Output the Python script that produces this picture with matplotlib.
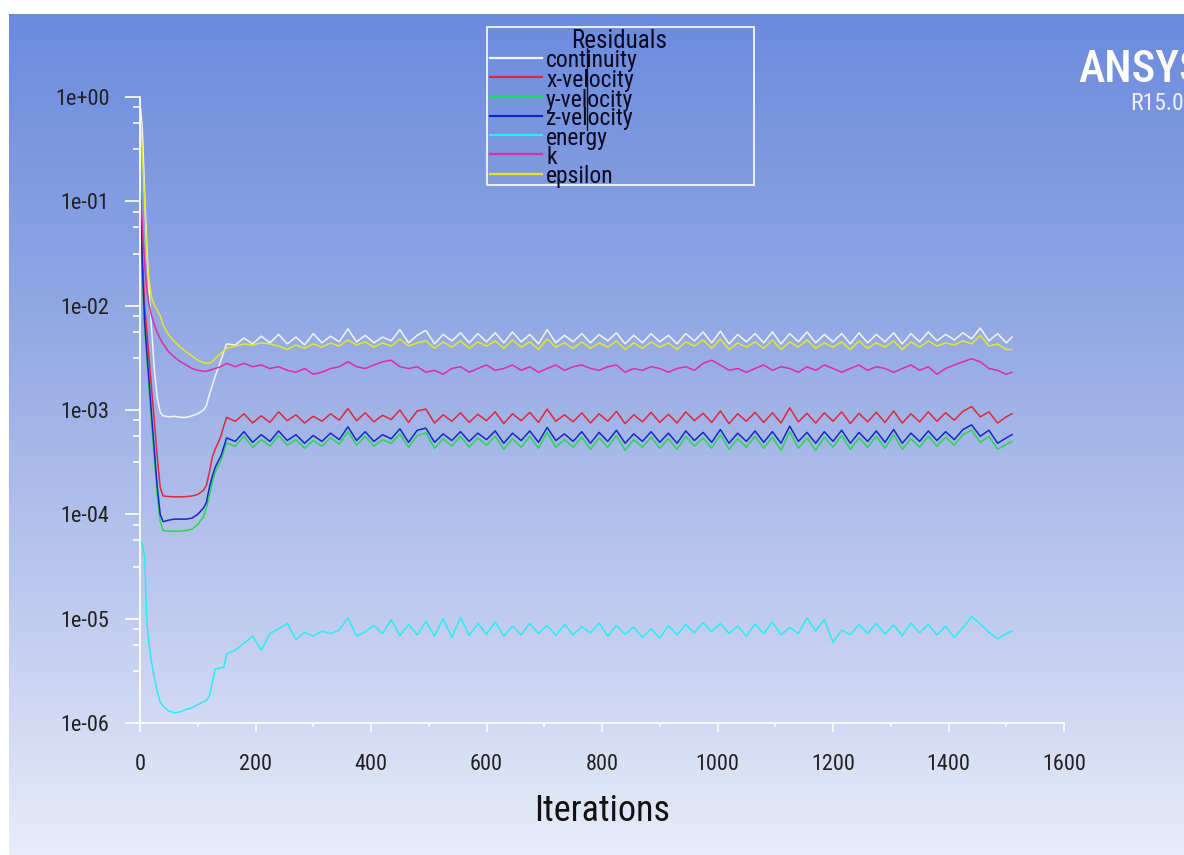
import numpy as np
import matplotlib
matplotlib.use("Agg")
import matplotlib.pyplot as plt
from matplotlib.colors import LinearSegmentedColormap
from matplotlib.lines import Line2D
from matplotlib.patches import Rectangle
from matplotlib.ticker import FixedLocator, NullFormatter

plt.rcParams['font.family'] = ['Roboto Condensed', 'Liberation Sans Narrow', 'Liberation Sans', 'DejaVu Sans']

iterations = [1, 4, 8, 12, 16, 20, 25, 30, 35, 40,
              50, 60, 70, 80, 90, 100, 110, 115, 120, 125,
              130, 135, 140, 145, 150,
              165, 180, 195, 210, 225, 240, 255, 270, 285, 300,
              315, 330, 345, 360, 375, 390, 405, 420, 435, 450,
              465, 480, 495, 510, 525, 540, 555, 570, 585, 600,
              615, 630, 645, 660, 675, 690, 705, 720, 735, 750,
              765, 780, 795, 810, 825, 840, 855, 870, 885, 900,
              915, 930, 945, 960, 975, 990, 1005, 1020, 1035, 1050,
              1065, 1080, 1095, 1110, 1125, 1140, 1155, 1170, 1185, 1200,
              1215, 1230, 1245, 1260, 1275, 1290, 1305, 1320, 1335, 1350,
              1365, 1380, 1395, 1410, 1425, 1440, 1455, 1470, 1485, 1500,
              1510]

continuity = np.array([
    780, 500, 120, 35, 13, 6, 2.4, 1.3, 0.95, 0.88,
    0.86, 0.87, 0.85, 0.85, 0.88, 0.92, 1.0, 1.1, 1.4, 1.7,
    2.1, 2.5, 3.0, 3.6, 4.3,
    4.2, 4.9, 4.3, 5.1, 4.4, 5.3, 4.3, 5.0, 4.2, 5.4,
    4.4, 5.1, 4.5, 6.0, 4.5, 5.2, 4.4, 5.0, 4.6, 5.9,
    4.4, 5.2, 5.8, 4.3, 5.3, 4.6, 5.5, 4.4, 5.4, 4.5,
    5.5, 4.4, 5.6, 4.5, 5.3, 4.3, 5.9, 4.4, 5.2, 4.5,
    5.4, 4.4, 5.3, 4.6, 5.5, 4.3, 5.2, 4.4, 5.4, 4.5,
    5.2, 4.3, 5.4, 4.6, 5.6, 4.4, 5.7, 4.3, 5.3, 4.5,
    5.4, 4.4, 5.6, 4.3, 5.4, 4.5, 5.6, 4.4, 5.3, 4.5,
    5.4, 4.3, 5.5, 4.4, 5.3, 4.5, 5.5, 4.3, 5.4, 4.5,
    5.6, 4.6, 5.3, 4.7, 5.5, 4.8, 6.1, 4.6, 5.4, 4.4,
    5.0]) * 1e-3

x_velocity = np.array([
    1000, 300, 100, 55, 30, 16, 7.5, 3.5, 1.8, 1.5,
    1.48, 1.47, 1.47, 1.48, 1.5, 1.55, 1.7, 1.9, 2.5, 3.5,
    4.2, 4.8, 5.6, 7.0, 8.5,
    7.8, 9.2, 7.5, 8.8, 7.6, 9.6, 7.9, 9.0, 7.5, 8.7,
    7.8, 9.2, 8.0, 10.3, 7.9, 9.4, 7.7, 8.9, 8.1, 10.0,
    7.6, 9.8, 10.2, 7.5, 9.0, 7.8, 9.4, 7.6, 9.1, 7.9,
    9.6, 7.4, 9.2, 7.9, 9.5, 7.6, 10.2, 7.8, 9.0, 7.7,
    9.4, 7.5, 9.2, 7.8, 9.7, 7.4, 9.0, 7.7, 9.5, 7.6,
    9.1, 7.5, 9.6, 7.9, 9.3, 7.6, 9.8, 7.4, 9.2, 7.8,
    9.5, 7.6, 9.4, 7.5, 10.5, 7.7, 9.3, 7.5, 9.4, 7.8,
    9.6, 7.4, 9.3, 7.7, 9.5, 7.6, 9.8, 7.5, 9.2, 7.7,
    9.6, 7.8, 9.4, 8.0, 9.7, 10.8, 8.6, 9.6, 7.5, 8.6,
    9.2]) * 1e-4

y_velocity = np.array([
    500, 200, 60, 30, 15, 7.5, 3.3, 1.5, 0.85, 0.7,
    0.69, 0.69, 0.69, 0.7, 0.72, 0.8, 0.95, 1.15, 1.5, 2.0,
    2.5, 2.9, 3.3, 4.0, 4.8,
    4.5, 5.6, 4.4, 5.2, 4.5, 5.7, 4.6, 5.2, 4.3, 5.1,
    4.5, 5.4, 4.7, 6.2, 4.6, 5.6, 4.5, 5.2, 4.8, 5.9,
    4.4, 5.7, 6.0, 4.3, 5.3, 4.5, 5.6, 4.4, 5.4, 4.6,
    5.6, 4.2, 5.3, 4.4, 5.6, 4.3, 6.1, 4.4, 5.2, 4.4,
    5.5, 4.2, 5.4, 4.4, 5.7, 4.1, 5.2, 4.4, 5.5, 4.3,
    5.3, 4.2, 5.6, 4.5, 5.4, 4.3, 5.8, 4.2, 5.3, 4.4,
    5.6, 4.3, 5.5, 4.1, 6.2, 4.3, 5.4, 4.1, 5.5, 4.4,
    5.7, 4.2, 5.4, 4.4, 5.6, 4.3, 5.8, 4.2, 5.3, 4.4,
    5.6, 4.5, 5.5, 4.6, 5.8, 6.4, 4.9, 5.6, 4.2, 4.7,
    5.0]) * 1e-4

z_velocity = np.array([
    800, 250, 70, 35, 18, 9, 4, 1.8, 1.0, 0.85,
    0.88, 0.9, 0.9, 0.9, 0.92, 1.0, 1.15, 1.3, 1.8, 2.3,
    2.8, 3.2, 3.6, 4.4, 5.4,
    5.0, 6.2, 4.9, 5.8, 5.0, 6.3, 5.1, 5.8, 4.8, 5.7,
    5.0, 6.0, 5.2, 6.9, 5.1, 6.2, 5.0, 5.8, 5.3, 6.6,
    4.9, 6.4, 6.7, 4.9, 5.9, 5.1, 6.2, 5.0, 6.0, 5.2,
    6.3, 4.8, 6.0, 5.1, 6.3, 4.9, 6.8, 5.1, 5.9, 5.0,
    6.2, 4.8, 6.1, 5.0, 6.4, 4.8, 5.9, 5.0, 6.2, 4.9,
    6.0, 4.8, 6.3, 5.1, 6.1, 4.9, 6.5, 4.8, 6.0, 5.0,
    6.3, 4.9, 6.2, 4.8, 7.0, 5.0, 6.1, 4.8, 6.2, 5.0,
    6.4, 4.8, 6.1, 5.0, 6.3, 4.9, 6.5, 4.8, 6.0, 5.0,
    6.3, 5.1, 6.2, 5.2, 6.5, 7.2, 5.6, 6.4, 4.8, 5.4,
    5.8]) * 1e-4

energy = np.array([
    55, 52, 40, 9, 5.5, 3.8, 2.7, 2.0, 1.6, 1.45,
    1.3, 1.25, 1.28, 1.35, 1.4, 1.5, 1.6, 1.65, 1.8, 2.4,
    3.3, 3.3, 3.4, 3.4, 4.6,
    5.0, 5.8, 6.8, 5.0, 7.2, 8.0, 9.0, 6.3, 7.4, 6.8,
    7.6, 7.2, 7.8, 10.2, 6.8, 7.5, 8.6, 7.2, 9.8, 6.9,
    8.8, 7.0, 9.4, 6.8, 10.0, 6.6, 10.3, 6.9, 9.0, 7.1,
    9.3, 6.8, 8.5, 7.0, 9.0, 7.2, 8.6, 6.9, 8.8, 7.0,
    8.4, 7.3, 9.1, 6.8, 8.6, 7.1, 8.3, 6.6, 8.0, 6.5,
    8.6, 7.0, 8.8, 7.3, 9.2, 7.5, 9.0, 7.2, 8.5, 6.8,
    8.9, 7.2, 9.3, 7.0, 8.2, 7.2, 10.2, 7.6, 9.8, 5.9,
    7.8, 7.0, 8.8, 7.2, 9.0, 7.1, 8.7, 6.9, 9.1, 7.3,
    8.8, 7.0, 8.5, 6.6, 8.2, 10.5, 8.9, 7.4, 6.4, 7.2,
    7.6]) * 1e-6

k = np.array([
    120, 60, 25, 14, 10, 8, 6.5, 5.5, 4.8, 4.3,
    3.6, 3.2, 2.9, 2.7, 2.5, 2.4, 2.35, 2.35, 2.4, 2.45,
    2.5, 2.55, 2.6, 2.7, 2.8,
    2.6, 2.8, 2.6, 2.7, 2.5, 2.6, 2.4, 2.3, 2.5, 2.2,
    2.3, 2.5, 2.6, 2.9, 2.6, 2.5, 2.7, 2.9, 3.0, 2.6,
    2.5, 2.6, 2.3, 2.4, 2.2, 2.5, 2.6, 2.3, 2.5, 2.7,
    2.4, 2.5, 2.7, 2.4, 2.6, 2.3, 2.5, 2.7, 2.4, 2.6,
    2.7, 2.5, 2.4, 2.6, 2.7, 2.3, 2.5, 2.4, 2.6, 2.5,
    2.3, 2.5, 2.6, 2.4, 2.8, 3.0, 2.7, 2.4, 2.5, 2.3,
    2.5, 2.7, 2.4, 2.6, 2.5, 2.3, 2.6, 2.4, 2.7, 2.5,
    2.3, 2.5, 2.7, 2.4, 2.6, 2.5, 2.3, 2.5, 2.7, 2.4,
    2.6, 2.2, 2.5, 2.7, 2.9, 3.1, 2.9, 2.5, 2.4, 2.2,
    2.3]) * 1e-3

epsilon = np.array([
    550, 300, 100, 30, 17, 12, 10, 9, 8, 6.5,
    5.2, 4.5, 4.0, 3.6, 3.3, 3.0, 2.85, 2.8, 2.8, 2.9,
    3.1, 3.3, 3.5, 3.7, 3.9,
    4.1, 4.3, 4.2, 4.4, 4.3, 4.1, 3.8, 4.2, 3.9, 4.3,
    4.0, 4.4, 4.1, 4.7, 4.2, 4.5, 4.0, 4.4, 4.1, 4.8,
    4.1, 4.4, 4.6, 3.9, 4.5, 4.0, 4.6, 3.9, 4.5, 4.1,
    4.6, 3.9, 4.7, 4.0, 4.5, 3.8, 4.8, 4.0, 4.4, 3.9,
    4.5, 3.9, 4.4, 4.0, 4.6, 3.8, 4.4, 3.9, 4.5, 4.0,
    4.4, 3.8, 4.5, 4.1, 4.7, 3.9, 4.8, 3.8, 4.4, 4.0,
    4.5, 3.9, 4.7, 3.8, 4.5, 4.0, 4.7, 3.9, 4.4, 4.0,
    4.5, 3.8, 4.6, 3.9, 4.4, 4.0, 4.6, 3.8, 4.5, 4.0,
    4.6, 4.1, 4.4, 4.2, 4.6, 4.3, 5.2, 4.1, 4.3, 3.8,
    3.8]) * 1e-3

names = ['continuity', 'x-velocity', 'y-velocity', 'z-velocity', 'energy', 'k', 'epsilon']
series = [continuity, x_velocity, y_velocity, z_velocity, energy, k, epsilon]
colors = ['#f2f4fa', '#e0283c', '#28d850', '#1428c8', '#28eef0', '#e02ca8', '#e6e628']

x_major = [0, 200, 400, 600, 800, 1000, 1200, 1400, 1600]
x_minor = [100, 300, 500, 700, 900, 1100, 1300, 1500]
y_major = [1e-6, 1e-5, 1e-4, 1e-3, 1e-2, 1e-1, 1e0]
y_labels = ['1e-06', '1e-05', '1e-04', '1e-03', '1e-02', '1e-01', '1e+00']

W, H = 1184, 855


def fx(px):
    return px / W


def fy(py):
    return 1 - py / H


fig = plt.figure(figsize=(W / 100, H / 100), dpi=100, facecolor='white')

# gradient background of the graphics window
bg = fig.add_axes([fx(9), 0, 1 - fx(9), fy(14)])
bg_cmap = LinearSegmentedColormap.from_list(
    'fluent', ['#6c8bde', '#8fa6e3', '#b9c6ee', '#e8ecf9'])
bg.imshow(np.linspace(0, 1, 256).reshape(-1, 1), aspect='auto', cmap=bg_cmap,
          extent=[0, 1, 0, 1])
bg.set_axis_off()

ax = fig.add_axes([fx(140), fy(723), fx(1064) - fx(140), fy(97) - fy(723)])
ax.patch.set_visible(False)
for name, vals, col in zip(names, series, colors):
    ax.plot(iterations, vals, color=col, lw=1.1, label=name)

ax.set_yscale('log')
ax.set_xlim(0, 1600)
ax.set_ylim(1e-6, 1e0)
for s in ['top', 'right']:
    ax.spines[s].set_visible(False)
for s in ['left', 'bottom']:
    ax.spines[s].set_color('white')
    ax.spines[s].set_linewidth(1.3)

ax.xaxis.set_major_locator(FixedLocator(x_major))
ax.xaxis.set_minor_locator(FixedLocator(x_minor))
ax.set_xticklabels([str(v) for v in x_major])
ax.yaxis.set_major_locator(FixedLocator(y_major))
ax.yaxis.set_minor_locator(FixedLocator(
    [d * m for d in y_major[:-1] for m in (3.16, 5.62, 7.94)]))
ax.set_yticklabels(y_labels)
ax.yaxis.set_minor_formatter(NullFormatter())

ax.tick_params(axis='y', which='major', direction='out', length=11, width=1.2,
               color='white', labelsize=16, labelcolor='#222222', pad=11)
ax.tick_params(axis='y', which='minor', direction='out', length=5, width=1.2,
               color='white')
ax.tick_params(axis='x', which='major', direction='out', length=6.5, width=1.2,
               color='white', labelsize=16, labelcolor='#222222', pad=16)
ax.tick_params(axis='x', which='minor', direction='out', length=3, width=1.2,
               color='white')
ax.set_xlabel('Iterations', fontsize=26, color='#111111', labelpad=13)

# legend box drawn the way Fluent does it
fig.patches.append(Rectangle((fx(487), fy(185)), fx(754) - fx(487), fy(27) - fy(185),
                             transform=fig.transFigure, fill=False,
                             edgecolor='white', lw=1.2))
fig.text(fx(619), fy(41), 'Residuals', ha='center', va='center', fontsize=18,
         color='#0a0a20')
row_y = [58, 77, 97, 116, 135, 154, 174]
for name, col, ry in zip(names, colors, row_y):
    fig.lines.append(Line2D([fx(490), fx(542)], [fy(ry), fy(ry)],
                            transform=fig.transFigure, color=col, lw=1.6))
    fig.text(fx(546), fy(ry + 3), name, ha='left', va='center', fontsize=17,
             color='#0a0a20')
fig.lines.append(Line2D([fx(587), fx(587)], [fy(130), fy(48)],
                        transform=fig.transFigure, color='#101030', lw=1.0))

# product stamp in the corner
fig.text(fx(1078), fy(70), 'ANSYS', ha='left', va='center', fontsize=32,
         fontweight='medium', color='white')
fig.text(fx(1130), fy(104), 'R15.0', ha='left', va='center', fontsize=17,
         color='#eef1fb')

fig.savefig('out.png', dpi=100, facecolor='white')
